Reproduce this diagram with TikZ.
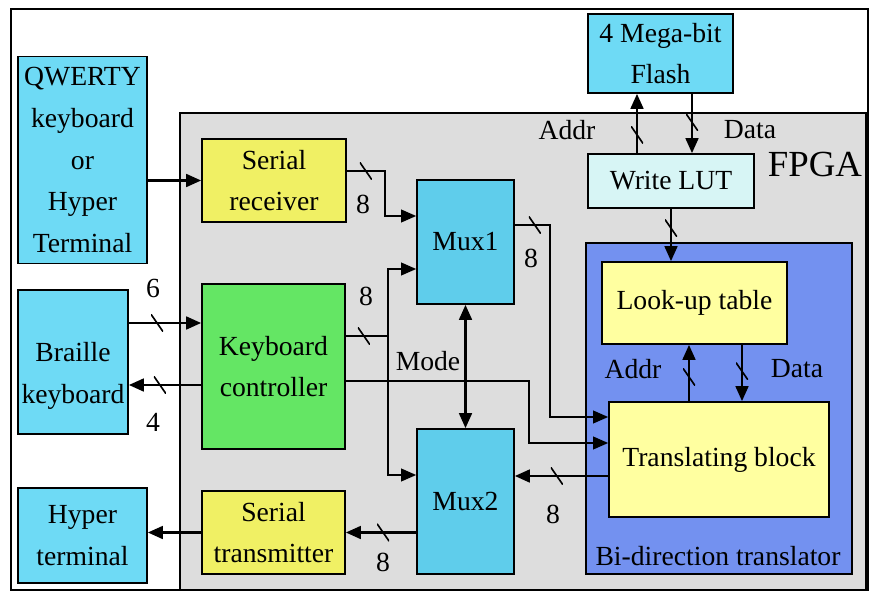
\documentclass[tikz,border=0pt]{standalone}
\usepackage{fontspec}
\setmainfont{Liberation Serif}
\usetikzlibrary{arrows.meta}

\definecolor{devcyan}{RGB}{110,218,245}
\definecolor{muxcyan}{RGB}{95,205,235}
\definecolor{serialyellow}{RGB}{240,240,100}
\definecolor{kbcgreen}{RGB}{100,230,100}
\definecolor{bdtblue}{RGB}{115,145,240}
\definecolor{lutyellow}{RGB}{255,255,160}
\definecolor{wlutcyan}{RGB}{215,245,245}
\definecolor{fpgagray}{RGB}{221,221,221}

\tikzset{
  lbl/.style={font=\fontsize{23.6}{35.5}\selectfont},
  blk/.style={draw, rectangle, line width=1.4pt, align=center, inner sep=0pt, lbl},
  conn/.style={line width=2.2pt},
  thinconn/.style={line width=1.5pt},
  busmark/.style={inner sep=0pt, minimum width=0.36cm, minimum height=0.52cm,
    path picture={\draw[-, line width=1.4pt] (path picture bounding box.north west) -- (path picture bounding box.south east);}}
}

\begin{document}
\begin{tikzpicture}[x=0.03cm, y=-0.03cm, >={Triangle[length=0.45cm,width=0.38cm]}]
    \useasboundingbox (0,0) rectangle (869,592);
    % Outer frame
    \draw[line width=1.4pt] (11,9) rectangle (868,590);

    % FPGA
    \node[blk, fill=fpgagray, minimum width=20.58cm, minimum height=14.31cm] (fpga) at (523,351.5) {};
    \node[lbl, font=\fontsize{31.4}{36}\selectfont] (fpgalbl) at (815,165) {FPGA};

    % Bi-direction translator
    \node[blk, fill=bdtblue, minimum width=7.98cm, minimum height=9.93cm] (bdt) at (719,408.5) {};
    \node[lbl] (bdtlbl) at (718,556) {Bi-direction translator};

    % External devices
    \node[blk, fill=devcyan, minimum width=3.87cm, minimum height=6.21cm] (qwerty) at (82.5,160) {QWERTY\\keyboard\\or\\Hyper\\Terminal};
    \node[blk, fill=devcyan, minimum width=3.3cm, minimum height=4.32cm,
      label={[lbl, align=center, yshift=-0.42cm]center:Braille\\keyboard}] (braille) at (73,362) {};
    \node[blk, fill=devcyan, minimum width=3.87cm, minimum height=2.85cm] (hyper) at (82.5,535.5) {Hyper\\terminal};
    \node[blk, fill=devcyan, minimum width=4.35cm, minimum height=2.37cm] (flash) at (660.5,53.5) {4 Mega-bit\\Flash};

    % FPGA blocks
    \node[blk, fill=serialyellow, minimum width=4.32cm, minimum height=2.49cm] (srx) at (274,180.5) {Serial\\receiver};
    \node[blk, fill=kbcgreen, minimum width=4.29cm, minimum height=4.95cm] (kbc) at (273.5,366.5) {Keyboard\\controller};
    \node[blk, fill=serialyellow, minimum width=4.29cm, minimum height=2.49cm] (stx) at (273.5,532.5) {Serial\\transmitter};
    \node[blk, fill=muxcyan, minimum width=2.91cm, minimum height=3.72cm] (mux1) at (465.5,242) {Mux1};
    \node[blk, fill=muxcyan, minimum width=2.91cm, minimum height=4.35cm] (mux2) at (465.5,501.5) {Mux2};
    \node[blk, fill=wlutcyan, minimum width=4.98cm, minimum height=1.62cm] (wlut) at (671,181) {Write LUT};
    \node[blk, fill=lutyellow, minimum width=5.55cm, minimum height=2.46cm] (lut) at (694.5,303) {Look-up table};
    \node[blk, fill=lutyellow, minimum width=6.6cm, minimum height=3.45cm] (tb) at (719,459.5) {Translating block};

    % Inputs
    \draw[conn, ->] (qwerty.east |- srx.west) -- (srx.west);
    \coordinate (bin) at ([yshift=1.17cm]braille.east);
    \draw[conn, ->] (bin) -- node[busmark, pos=0.39] {} (bin -| kbc.west);
    \coordinate (bout) at ([yshift=-0.69cm]braille.east);
    \draw[conn, <-] (bout) -- node[busmark, pos=0.43] {} (bout -| kbc.west);
    \node[lbl] (six) at (153,288) {6};
    \node[lbl] (four) at (153,422) {4};

    % Serial receiver to Mux1
    \draw[thinconn, ->] ([yshift=0.285cm]srx.east) -- node[busmark] {} ++(38,0) |- ([yshift=0.78cm]mux1.west);
    \node[lbl] (srxw) at (363,204) {8};

    % Keyboard controller to both muxes
    \draw[thinconn] ([yshift=0.915cm]kbc.east) -- node[busmark, pos=0.43] {} ++(42,0) coordinate (kbus);
    \draw[thinconn, ->] (kbus) |- ([yshift=-0.81cm]mux1.west);
    \draw[thinconn, ->] (kbus) |- ([yshift=0.795cm]mux2.west);
    \node[lbl] (kbcw) at (366,296) {8};
    \draw[thinconn, ->] ([yshift=-0.435cm]kbc.east) -- ++(183,0) |- ([yshift=0.495cm]tb.west);

    % Mux1 to translating block
    \draw[thinconn, ->] ([yshift=0.51cm]mux1.east) -- node[busmark, pos=0.57] {} ++(35,0) |- ([yshift=1.275cm]tb.west);
    \node[lbl] (mux1w) at (531,258) {8};

    % Mode
    \draw[conn, <->] (mux1.south) -- (mux2.north);
    \node[lbl] (mode) at (428,361) {Mode};

    % Back to Mux2 and out
    \coordinate (tbout) at ([yshift=-0.495cm]tb.west);
    \draw[conn, ->] (tbout) -- node[busmark, pos=0.55] {} (tbout -| mux2.east);
    \node[lbl] (tbw) at (553,514) {8};
    \draw[conn, ->] (mux2.west |- stx.east) -- node[busmark, pos=0.47] {} (stx.east);
    \node[lbl] (mux2w) at (383,562) {8};
    \draw[conn, ->] (stx.west) -- (stx.west -| hyper.east);

    % Flash
    \coordinate (wa) at ([xshift=-1.02cm]wlut.north);
    \draw[conn, ->] (wa) -- node[busmark, pos=0.31] {} (wa |- flash.south);
    \coordinate (fd) at ([xshift=0.63cm]wlut.north);
    \draw[conn, <-] (fd) -- node[busmark, pos=0.52] {} (fd |- flash.south);
    \node[lbl] (faddr) at (567,130) {Addr};
    \node[lbl] (fdata) at (750,130) {Data};
    \draw[conn, ->] (wlut.south) -- node[busmark, pos=0.37] {} (wlut.south |- lut.north);

    % Look-up table
    \coordinate (ta) at ([xshift=-0.9cm]tb.north);
    \draw[conn, ->] (ta) -- node[busmark, pos=0.43] {} (ta |- lut.south);
    \coordinate (td) at ([xshift=0.69cm]tb.north);
    \draw[conn, <-] (td) -- node[busmark, pos=0.53] {} (td |- lut.south);
    \node[lbl] (laddr) at (633,369) {Addr};
    \node[lbl] (ldata) at (797,369) {Data};
\end{tikzpicture}
\end{document}
